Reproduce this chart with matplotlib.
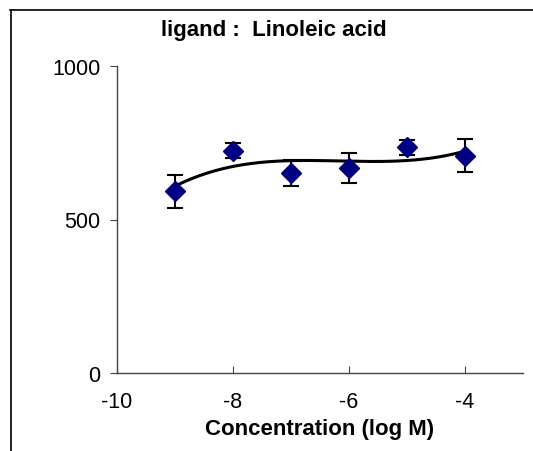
import numpy as np
import matplotlib
matplotlib.use("Agg")
import matplotlib.pyplot as plt
from matplotlib.lines import Line2D

plt.rcParams['font.family'] = ['Liberation Sans', 'DejaVu Sans']
plt.rcParams['axes.unicode_minus'] = False

# Data
log_conc = [-9, -8, -7, -6, -5, -4]
response = [592, 724, 652, 667, 735, 708]
error = [53, 25, 42, 48, 25, 54]
x_ticks = [-10, -8, -6, -4]
y_ticks = [0, 500, 1000]
title = "ligand :  Linoleic acid"
xlabel = "Concentration (log M)"

W, H = 533, 452
dpi = 100
fig = plt.figure(figsize=(W / dpi, H / dpi), dpi=dpi)
ax = fig.add_axes([117 / W, 1 - 374 / H, (523 - 117) / W, (374 - 67) / H])

# trendline (cubic fit to the data)
coef = np.polyfit(log_conc, response, 3)
xs = np.linspace(min(log_conc), max(log_conc), 200)
ax.plot(xs, np.polyval(coef, xs), color='black', lw=2.2, zorder=2)

ax.errorbar(log_conc, response, yerr=error, fmt='none', ecolor='black',
            elinewidth=1.5, capsize=6, capthick=1.5, zorder=3)
ax.plot(log_conc, response, linestyle='none', marker='D', markersize=10.5,
        color='#000080', markeredgecolor='#000080', zorder=4)

ax.set_xlim(-10, -3)
ax.set_ylim(0, 1000)
ax.set_xticks(x_ticks)
ax.set_yticks(y_ticks)
for s in ['top', 'right']:
    ax.spines[s].set_visible(False)
for s in ['left', 'bottom']:
    ax.spines[s].set_color('#444444')
    ax.spines[s].set_linewidth(1.0)
ax.tick_params(axis='x', direction='in', length=5, pad=13, labelsize=15.5, color='#444444')
ax.tick_params(axis='y', direction='out', length=5, pad=7, labelsize=15.5, color='#444444')

fig.text(274 / W, 1 - 36 / H, title, ha='center', va='baseline',
         fontsize=16, fontweight='bold')
fig.text(320 / W, 1 - 435 / H, xlabel, ha='center', va='baseline',
         fontsize=16, fontweight='bold')

# figure border (top and left)
fig.add_artist(Line2D([10 / W, 1], [1 - 11 / H, 1 - 11 / H], color='black', lw=1.2,
                      transform=fig.transFigure))
fig.add_artist(Line2D([10.5 / W, 10.5 / W], [0, 1 - 11 / H], color='black', lw=1.2,
                      transform=fig.transFigure))

fig.savefig('out.png', dpi=dpi)
